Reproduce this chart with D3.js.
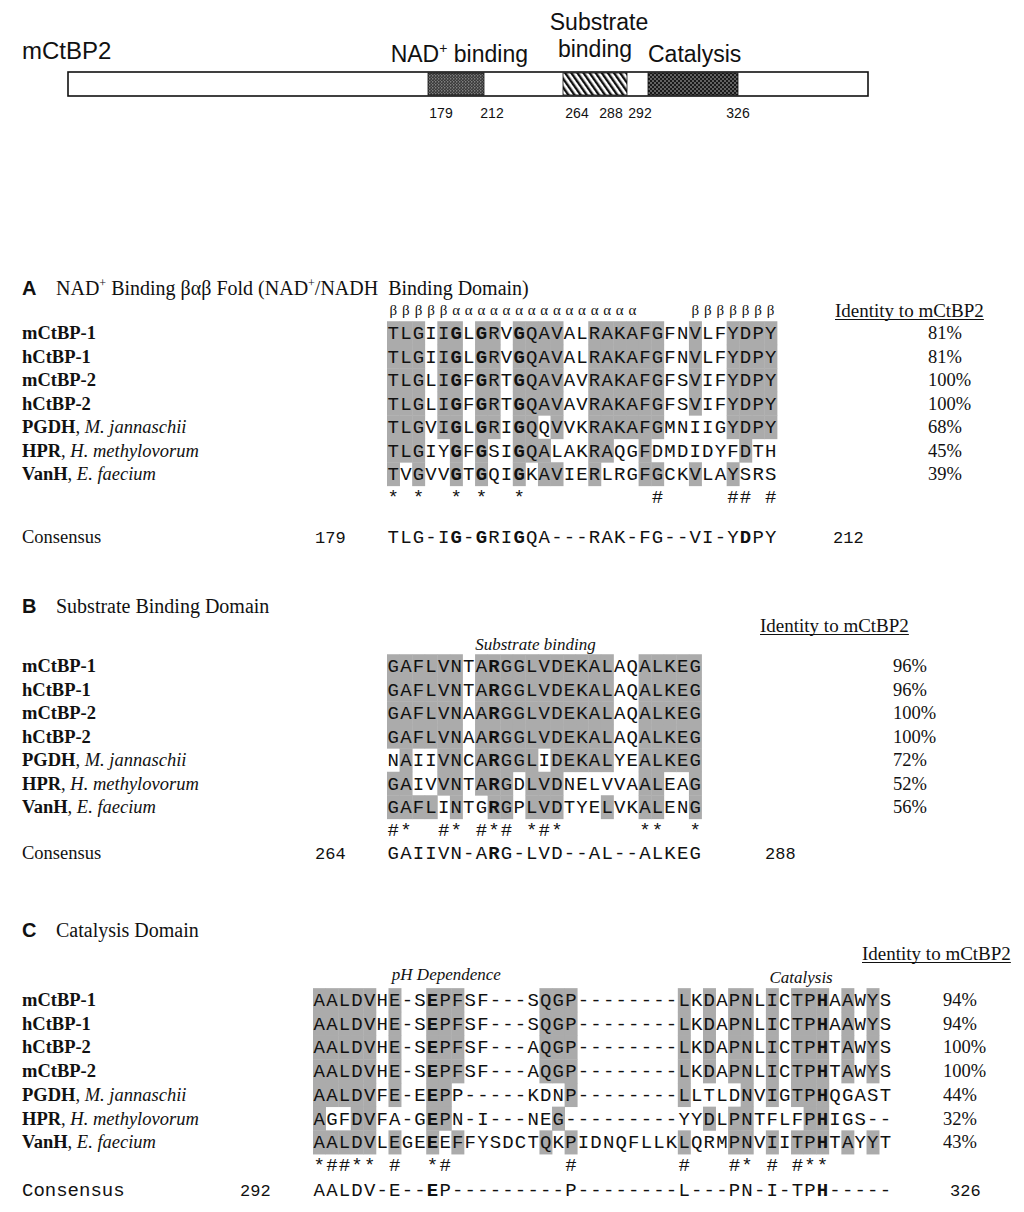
<!DOCTYPE html>
<html>
<head>
<meta charset="utf-8">
<script src="https://cdn.jsdelivr.net/npm/d3@7"></script>
<style>
  body { margin: 0; background: #fff; }
</style>
</head>
<body>
<div id="graf"></div>
<script>
// ---- datos del esquema de dominios ----
const proteinName = "mCtBP2"
const domainKeys = ["nad", "sub", "cat"]
const domainStart = [179, 264, 292]
const domainEnd = [212, 288, 326]
const residueMarks = [179, 212, 264, 288, 292, 326]

// ---- panel A ----
const namesA = [["mCtBP-1", ""], ["hCtBP-1", ""], ["mCtBP-2", ""], ["hCtBP-2", ""],
  ["PGDH", "M. jannaschii"], ["HPR", "H. methylovorum"], ["VanH", "E. faecium"]]
const seqA = [
  "TLGIIGLGRVGQAVALRAKAFGFNVLFYDPY",
  "TLGIIGLGRVGQAVALRAKAFGFNVLFYDPY",
  "TLGLIGFGRTGQAVAVRAKAFGFSVIFYDPY",
  "TLGLIGFGRTGQAVAVRAKAFGFSVIFYDPY",
  "TLGVIGLGRIGQQVVKRAKAFGMNIIGYDPY",
  "TLGIYGFGSIGQALAKRAQGFDMDIDYFDTH",
  "TVGVVGTGQIGKAVIERLRGFGCKVLAYSRS"]
const maskA = [
  "11101 10110 11110 01111 11001 00111 1",
  "11101 10110 11110 01111 11001 00111 1",
  "11101 10110 11110 01111 11001 00111 1",
  "11101 10110 11110 01111 11001 00111 1",
  "11101 10110 11010 01111 11000 00111 1",
  "11100 10100 11100 01100 10000 00010 0",
  "10100 10100 10110 01000 11001 00100 0"]
const structA = "βββββααααααααααααααα....βββββββ"
const marksA = "*.*..*.*..*..........#.....##.#"
const consA = "TLG-IG-GRIGQA---RAK-FG--VI-YDPY"
const boldA = [6, 8, 11]
const consBoldA = [6, 8, 11, 29]
const identA = [81, 81, 100, 100, 68, 45, 39]
const rangeA = [179, 212]

// ---- panel B ----
const namesB = namesA
const seqB = [
  "GAFLVNTARGGLVDEKALAQALKEG",
  "GAFLVNTARGGLVDEKALAQALKEG",
  "GAFLVNAARGGLVDEKALAQALKEG",
  "GAFLVNAARGGLVDEKALAQALKEG",
  "NAIIVNCARGGLIDEKALYEALKEG",
  "GAIVVNTARGDLVDNELVVAALEAG",
  "GAFLINTGRGPLVDTYELVKALENG"]
const maskB = [
  "11111 10111 11111 11100 11111",
  "11111 10111 11111 11100 11111",
  "11111 10111 11111 11100 11111",
  "11111 10111 11111 11100 11111",
  "01001 10111 11011 11100 11111",
  "11001 10111 01110 00000 11001",
  "11110 10011 01110 00100 11001"]
const marksB = "#*..#*.#*#.*#*......**..*"
const consB = "GAIIVN-ARG-LVD--AL--ALKEG"
const boldB = [9]
const identB = [96, 96, 100, 100, 72, 52, 56]
const rangeB = [264, 288]

// ---- panel C ----
const namesC = [["mCtBP-1", ""], ["hCtBP-1", ""], ["hCtBP-2", ""], ["mCtBP-2", ""],
  ["PGDH", "M. jannaschii"], ["HPR", "H. methylovorum"], ["VanH", "E. faecium"]]
const seqC = [
  "AALDVHE-SEPFSF---SQGP--------LKDAPNLICTPHAAWYS",
  "AALDVHE-SEPFSF---SQGP--------LKDAPNLICTPHAAWYS",
  "AALDVHE-SEPFSF---AQGP--------LKDAPNLICTPHTAWYS",
  "AALDVHE-SEPFSF---AQGP--------LKDAPNLICTPHTAWYS",
  "AALDVFE-EEPP-----KDNP--------LLTLDNVIGTPHQGAST",
  "AGFDVFA-GEPN-I---NEG---------YYDLPNTFLFPHIGS--",
  "AALDVLEGEEEFFYSDCTQKPIDNQFLLKLQRMPNVIITPHTAYYT"]
const maskC = [
  "11111 01001 11000 00011 10000 00001 01011 01011 10101 0",
  "11111 01001 11000 00011 10000 00001 01011 01011 10101 0",
  "11111 01001 11000 00011 10000 00001 01011 01011 10101 0",
  "11111 01001 11000 00011 10000 00001 01011 01011 10101 0",
  "11111 01001 10000 00000 10000 00001 00001 01011 10000 0",
  "10011 00001 10000 00001 00000 00000 01011 00001 10000 0",
  "11111 01001 01000 00010 10000 00001 00011 01011 10101 0"]
const marksC = "*##**.#..*#.........#........#...#*.#.#**....."
const consC = "AALDV-E--EP---------P--------L---PN-I-TPH-----"
const boldC = [10, 41]
const identC = [94, 94, 100, 100, 44, 32, 43]
const rangeC = [292, 326]

// ---- fuentes y estilo ----
const mono = "'Courier New', 'Liberation Mono', monospace"
const serif = "'Times New Roman', 'Liberation Serif', serif"
const sans = "Arial, 'Liberation Sans', sans-serif"
const shade = "#ababab"
const ink = "#111"
const CW = 12.58

const svg = d3.select("#graf").append("svg")
  .attr("width", 1024).attr("height", 1212)
  .style("display", "block")

const defs = svg.append("defs")

// patrones de relleno de los dominios
const pNad = defs.append("pattern").attr("id", "nad").attr("patternUnits", "userSpaceOnUse")
  .attr("width", 3).attr("height", 3)
pNad.append("rect").attr("width", 3).attr("height", 3).attr("fill", "#3a3a3a")
pNad.append("circle").attr("cx", 0.8).attr("cy", 0.8).attr("r", 0.6).attr("fill", "#cfcfcf")
pNad.append("circle").attr("cx", 2.3).attr("cy", 2.3).attr("r", 0.5).attr("fill", "#9a9a9a")

const pSub = defs.append("pattern").attr("id", "sub").attr("patternUnits", "userSpaceOnUse")
  .attr("width", 5).attr("height", 5).attr("patternTransform", "rotate(-35)")
pSub.append("rect").attr("width", 5).attr("height", 5).attr("fill", "#fff")
pSub.append("rect").attr("width", 2.4).attr("height", 5).attr("fill", "#111")

const pCat = defs.append("pattern").attr("id", "cat").attr("patternUnits", "userSpaceOnUse")
  .attr("width", 4).attr("height", 4)
pCat.append("rect").attr("width", 4).attr("height", 4).attr("fill", "#1a1a1a")
pCat.append("circle").attr("cx", 1).attr("cy", 1).attr("r", 0.8).attr("fill", "#bdbdbd")
pCat.append("circle").attr("cx", 3).attr("cy", 3).attr("r", 0.8).attr("fill", "#bdbdbd")

// ---- esquema superior ----
const xRes = d3.scaleLinear()
  .domain([1, 179, 212, 264, 288, 292, 326, 445])
  .range([68, 428, 484, 563, 627, 648, 738, 868])

const esquema = svg.append("g")
esquema.append("text").attr("x", 22).attr("y", 59)
  .attr("font-family", sans).attr("font-size", 24).attr("fill", ink).text(proteinName)

esquema.append("rect").attr("x", xRes(1)).attr("y", 72)
  .attr("width", xRes(445) - xRes(1)).attr("height", 24)
  .attr("fill", "#fff").attr("stroke", ink).attr("stroke-width", 1.6)

esquema.selectAll("rect.dom").data(domainKeys).enter().append("rect")
  .attr("class", "dom")
  .attr("x", (d, i) => xRes(domainStart[i]))
  .attr("y", 73)
  .attr("width", (d, i) => xRes(domainEnd[i]) - xRes(domainStart[i]))
  .attr("height", 22)
  .attr("fill", (d) => `url(#${d})`)
  .attr("stroke", ink).attr("stroke-width", 0.8)

// etiquetas de los dominios
const nadLab = esquema.append("text").attr("x", xRes(212) + 44).attr("y", 62)
  .attr("text-anchor", "end").attr("font-family", sans).attr("font-size", 23).attr("fill", ink)
nadLab.append("tspan").text("NAD")
nadLab.append("tspan").attr("font-size", 14).attr("dy", -9).text("+")
nadLab.append("tspan").attr("dy", 9).text(" binding")

esquema.append("text").attr("x", (xRes(264) + xRes(288)) / 2 + 4).attr("y", 30)
  .attr("text-anchor", "middle").attr("font-family", sans).attr("font-size", 23).attr("fill", ink)
  .text("Substrate")
esquema.append("text").attr("x", (xRes(264) + xRes(288)) / 2).attr("y", 57)
  .attr("text-anchor", "middle").attr("font-family", sans).attr("font-size", 23).attr("fill", ink)
  .text("binding")
esquema.append("text").attr("x", xRes(292)).attr("y", 62)
  .attr("font-family", sans).attr("font-size", 23).attr("fill", ink)
  .text("Catalysis")

const markShift = [13, 8, 14, -16, -8, 0]
esquema.selectAll("text.res").data(residueMarks).enter().append("text")
  .attr("class", "res")
  .attr("x", (d, i) => xRes(d) + markShift[i])
  .attr("y", 118)
  .attr("text-anchor", "middle")
  .attr("font-family", sans).attr("font-size", 14).attr("fill", ink)
  .text((d) => d)

// ---- paneles de alineamiento ----
const flat = (s) => s.replace(/ /g, "")

function underlined(g, x, y, txt) {
  const t = g.append("text").attr("x", x).attr("y", y)
    .attr("font-family", serif).attr("font-size", 19).attr("fill", ink).text(txt)
  const w = t.node().getComputedTextLength()
  g.append("line").attr("x1", x).attr("x2", x + w).attr("y1", y + 2.5).attr("y2", y + 2.5)
    .attr("stroke", ink).attr("stroke-width", 1)
}

function drawPanel(p) {
  const g = svg.append("g")
  const n = p.seqs[0].length
  const x = d3.scaleLinear().domain([0, n]).range([p.x0, p.x0 + n * CW])
  const y = d3.scaleLinear().domain([0, 6]).range([p.y0, p.y0 + 6 * p.dy])

  // letra del panel y titulo
  g.append("text").attr("x", 22).attr("y", p.titleY + 7)
    .attr("font-family", sans).attr("font-weight", "bold").attr("font-size", 20).attr("fill", ink)
    .text(p.letter)
  const tt = g.append("text").attr("x", 56).attr("y", p.titleY + 7)
    .attr("font-family", serif).attr("font-size", 20).attr("fill", ink)
    .attr("xml:space", "preserve")
  let shift = 0
  p.title.forEach((part) => {
    if (part === "+") {
      tt.append("tspan").attr("font-size", 12).attr("dy", -8 - shift).text("+")
      shift = -8
    } else {
      tt.append("tspan").attr("dy", -shift).text(part)
      shift = 0
    }
  })

  underlined(g, p.idHeadX, p.idHeadY, "Identity to mCtBP2")

  // sombreado
  p.masks.forEach((m, r) => {
    const cells = flat(m).split("").map((c, i) => ({ c, i })).filter((d) => d.c === "1")
    g.selectAll(null).data(cells).enter().append("rect")
      .attr("x", (d) => x(d.i))
      .attr("y", y(r) - p.dy / 2)
      .attr("width", CW + 0.4)
      .attr("height", p.dy + 0.4)
      .attr("fill", shade)
  })

  // secuencias
  const letters = (s, yy, bold) => {
    g.selectAll(null).data(s.split("").map((c, i) => ({ c, i }))).enter()
      .filter((d) => d.c !== ".")
      .append("text")
      .attr("x", (d) => x(d.i + 0.5))
      .attr("y", yy)
      .attr("text-anchor", "middle")
      .attr("font-family", mono).attr("font-size", 19).attr("fill", ink)
      .attr("font-weight", (d) => (bold.includes(d.i + 1) ? "bold" : null))
      .text((d) => d.c)
  }
  p.seqs.forEach((s, r) => letters(s, y(r) + 6, p.bold))
  letters(p.marks, p.marksY + 6, [])
  letters(p.cons, p.consY + 6, p.consBold)

  // estructura secundaria (solo A)
  if (p.struct) {
    g.selectAll(null).data(p.struct.split("").map((c, i) => ({ c, i }))).enter()
      .filter((d) => d.c !== ".")
      .append("text")
      .attr("x", (d) => x(d.i + 0.5)).attr("y", p.structY + 5)
      .attr("text-anchor", "middle")
      .attr("font-family", serif).attr("font-size", 15).attr("fill", ink)
      .text((d) => d.c)
  }

  // nombres
  p.names.forEach((nm, r) => {
    const t = g.append("text").attr("x", 22).attr("y", y(r) + 6)
      .attr("font-family", serif).attr("font-size", 18.5).attr("fill", ink)
    t.append("tspan").attr("font-weight", "bold").text(nm[0])
    if (nm[1]) {
      t.append("tspan").text(", ")
      t.append("tspan").attr("font-style", "italic").text(nm[1])
    }
  })

  // identidades
  g.selectAll(null).data(p.ident).enter().append("text")
    .attr("x", p.idX).attr("y", (d, i) => y(i) + 6)
    .attr("font-family", serif).attr("font-size", 18.5).attr("fill", ink)
    .text((d) => d + "%")

  // consenso
  g.append("text").attr("x", 22).attr("y", p.consY + 6)
    .attr("font-family", p.consMono ? mono : serif).attr("font-size", p.consMono ? 19 : 18.5)
    .attr("fill", ink).text("Consensus")
  g.append("text").attr("x", p.numLX).attr("y", p.consY + 6)
    .attr("font-family", mono).attr("font-size", 17).attr("fill", ink).text(p.range[0])
  g.append("text").attr("x", p.numRX).attr("y", p.consY + 6)
    .attr("font-family", mono).attr("font-size", 17).attr("fill", ink).text(p.range[1])

  // notas en cursiva
  ;(p.notes || []).forEach((nt) => {
    g.append("text").attr("x", x(nt.col)).attr("y", nt.y + 5)
      .attr("text-anchor", "middle")
      .attr("font-family", serif).attr("font-style", "italic").attr("font-size", 17)
      .attr("fill", ink).text(nt.text)
  })
}

drawPanel({
  letter: "A", titleY: 288,
  title: ["NAD", "+", " Binding βαβ Fold (NAD", "+", "/NADH  Binding Domain)"],
  idHeadX: 835, idHeadY: 317,
  x0: 387, y0: 333, dy: 23.5,
  seqs: seqA, masks: maskA, marks: marksA, cons: consA,
  bold: boldA, consBold: consBoldA, names: namesA, ident: identA, idX: 928,
  struct: structA, structY: 310,
  marksY: 497, consY: 537, range: rangeA, numLX: 315, numRX: 833
})

drawPanel({
  letter: "B", titleY: 606,
  title: ["Substrate Binding Domain"],
  idHeadX: 760, idHeadY: 632,
  x0: 387, y0: 666, dy: 23.5,
  seqs: seqB, masks: maskB, marks: marksB, cons: consB,
  bold: boldB, consBold: boldB, names: namesB, ident: identB, idX: 893,
  marksY: 830, consY: 853, range: rangeB, numLX: 315, numRX: 765,
  notes: [{ col: 11.8, y: 645, text: "Substrate binding" }]
})

drawPanel({
  letter: "C", titleY: 930,
  title: ["Catalysis Domain"],
  idHeadX: 862, idHeadY: 960,
  x0: 313, y0: 1000, dy: 23.7,
  seqs: seqC, masks: maskC, marks: marksC, cons: consC,
  bold: boldC, consBold: boldC, names: namesC, ident: identC, idX: 943,
  marksY: 1165, consY: 1190, range: rangeC, numLX: 240, numRX: 950, consMono: true,
  notes: [{ col: 10.6, y: 975, text: "pH Dependence" }, { col: 38.8, y: 978, text: "Catalysis" }]
})
</script>
</body>
</html>
